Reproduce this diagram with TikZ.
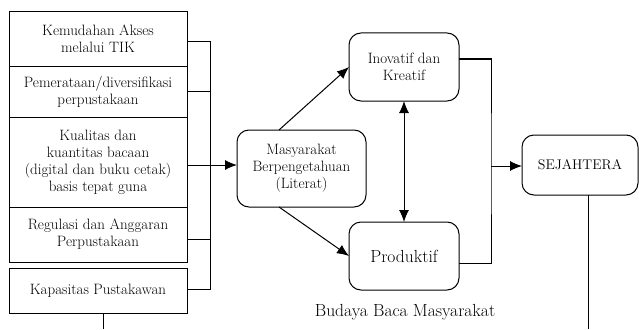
\documentclass[tikz,border=0pt]{standalone}
\usetikzlibrary{arrows.meta}
\begin{document}
\begin{tikzpicture}[x=1pt, y=-1pt, line width=1pt,
        faktor/.style={draw, rectangle, align=center, inner sep=0pt, outer sep=0pt,
            minimum width=178pt, font=\fontsize{15}{17}\selectfont},
        hasil/.style={draw, rounded corners=12pt, align=center, inner sep=0pt, outer sep=0pt,
            font=\fontsize{15}{17}\selectfont},
        panah/.style={-{Latex[length=12pt, width=10pt]}}]
        \useasboundingbox (0, 0) rectangle (639, 329);
        % faktor-faktor di kiri
        \node[faktor, minimum height=54pt] (akses) at (98, 39) {Kemudahan Akses\\melalui TIK};
        \node[faktor, minimum height=51pt] (merata) at (98, 91.5) {Pemerataan/diversifikasi\\perpustakaan};
        \node[faktor, minimum height=90pt] (bacaan) at (98, 162) {Kualitas dan\\kuantitas bacaan\\(digital dan buku cetak)\\basis tepat guna};
        \node[faktor, minimum height=55pt] (regulasi) at (98, 234.5) {Regulasi dan Anggaran\\Perpustakaan};
        \node[faktor, minimum height=45pt] (pustakawan) at (98, 290.5) {Kapasitas Pustakawan};
        % kotak bulat
        \node[hasil, minimum width=129pt, minimum height=77pt] (masy) at (301.5, 168.5) {Masyarakat\\Berpengetahuan\\(Literat)};
        \node[hasil, minimum width=110pt, minimum height=68pt] (inovatif) at (404, 67) {Inovatif dan\\Kreatif};
        \node[hasil, minimum width=110pt, minimum height=68pt, font=\fontsize{17.5}{20}\selectfont] (produktif) at (404, 256) {Produktif};
        \node[hasil, minimum width=116pt, minimum height=60pt, font=\fontsize{14}{17}\selectfont] (sejahtera) at (580, 165) {SEJAHTERA};
        \node[font=\fontsize{17.5}{20}\selectfont] (budaya) at (405, 312) {Budaya Baca Masyarakat};
        % garis kiri
        \coordinate (bacaanKanan) at ([yshift=-3pt]bacaan.east);
        \draw ([yshift=-3pt]akses.east) -- ++(23, 0) |- ([yshift=1.5pt]pustakawan.east);
        \draw (merata.east) -- ++(23, 0);
        \draw ([yshift=-4.5pt]regulasi.east) -- ++(23, 0);
        \draw[panah] (bacaanKanan) -- (bacaanKanan -| masy.west);
        \draw[panah] ([xshift=42pt]masy.north west) -- (inovatif.west);
        \draw[panah] ([xshift=42pt]masy.south west) -- (produktif.west);
        \draw[{Latex[length=12pt, width=10pt]}-{Latex[length=12pt, width=10pt]}] (inovatif.south) -- (produktif.north);
        % garis kanan
        \coordinate (simpul) at (491, 166);
        \draw ([yshift=8pt]inovatif.east) -| (simpul) |- ([yshift=-7pt]produktif.east);
        \draw[panah] (simpul) -- (simpul -| sejahtera.west);
        % garis bawah
        \coordinate (ujungKiri) at (103, 329);
        \coordinate (ujungKanan) at (588, 329);
        \draw ([xshift=5pt]pustakawan.south) -- (ujungKiri);
        \draw ([xshift=8pt]sejahtera.south) -- (ujungKanan);
    \end{tikzpicture}
\end{document}
